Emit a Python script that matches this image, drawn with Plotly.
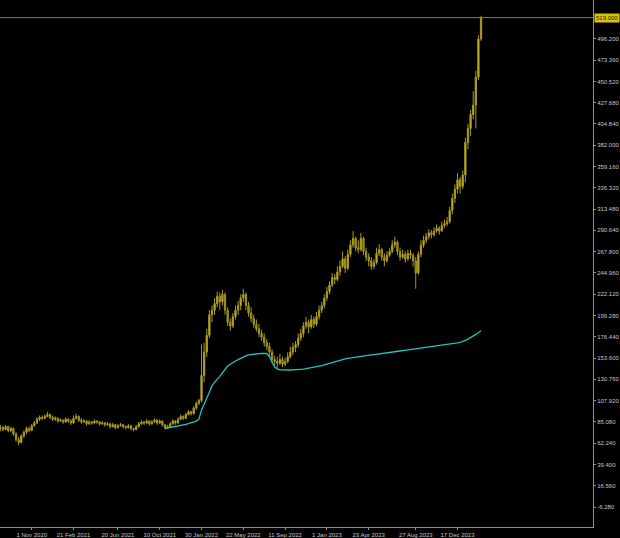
import pandas as pd
import plotly.graph_objects as go

start_date = "2020-08-09"

opens = [78,79,77,80,76,78,72,66,63,70,74,78,76,81,84,88,90,89,91,93,
         90,88,89,86,87,85,88,86,84,89,91,87,85,86,83,85,84,86,85,83,
         84,82,83,80,82,79,81,82,80,79,81,78,77,80,83,85,84,86,83,85,
         87,84,86,82,79,80,83,86,84,88,91,89,93,96,94,100,105,108,135,160,
         178,200,205,212,220,214,222,205,192,188,198,205,210,218,222,210,202,196,190,185,
         180,176,170,166,160,152,150,148,152,147,150,155,160,165,168,175,180,188,192,187,
         195,190,198,205,210,218,225,232,240,238,246,252,260,250,265,275,282,272,270,282,
         268,262,258,252,256,266,270,262,258,264,268,275,278,268,262,265,260,266,264,258,
         245,265,275,280,284,288,286,290,293,290,296,298,300,312,325,335,345,338,350,385,
         400,415,425,455,496]
highs = [82,81,82,81,80,79,74,69,72,76,80,80,83,86,90,92,92,93,96,94,
         92,91,90,89,88,90,89,88,92,94,92,89,88,87,87,86,88,87,86,86,
         85,85,84,84,83,83,84,83,81,83,82,79,82,85,87,86,88,87,87,89,
         88,88,87,83,82,85,88,87,90,93,92,95,98,97,102,107,110,168,170,185,
         205,210,218,225,224,227,224,208,196,202,210,215,222,228,224,214,208,200,195,190,
         184,180,174,170,163,156,155,158,155,154,160,166,170,172,180,185,192,198,195,200,
         198,203,210,214,222,230,236,245,244,252,258,268,263,270,280,290,284,280,288,284,
         272,266,262,260,272,276,272,266,268,272,280,284,280,272,270,268,270,270,266,262,
         268,280,285,288,292,291,294,297,295,300,302,305,316,330,340,352,348,355,390,405,
         420,440,462,500,521]
lows = [75,75,76,74,74,70,64,60,62,68,72,74,75,80,83,86,87,88,90,88,
        86,86,84,85,83,84,84,82,83,88,85,83,84,81,82,82,83,83,81,82,
        80,81,78,79,77,78,80,78,77,78,76,75,76,79,82,82,83,81,82,84,
        82,83,80,77,78,79,82,82,83,87,87,88,92,92,93,98,103,106,128,155,
        175,192,200,208,205,210,200,188,183,186,195,200,205,214,205,198,192,186,182,176,
        172,166,162,155,148,145,143,146,144,145,148,153,157,160,165,172,176,185,180,185,
        186,188,195,202,207,215,222,230,233,236,242,250,245,248,262,272,268,266,268,264,
        258,252,248,249,254,263,258,252,256,262,266,272,264,258,260,256,258,260,252,228,
        243,262,272,277,281,282,284,288,286,289,293,295,298,308,320,330,330,335,342,378,
        392,410,400,452,494]
closes = [79,77,80,76,78,72,66,63,70,74,78,76,81,84,88,90,89,91,93,90,
          88,89,86,87,85,88,86,84,89,91,87,85,86,83,85,84,86,85,83,84,
          82,83,80,82,79,81,82,80,79,81,78,77,80,83,85,84,86,83,85,87,
          84,86,82,79,80,83,86,84,88,91,89,93,96,94,100,105,108,135,160,178,
          200,205,212,220,214,222,205,192,188,198,205,210,218,222,210,202,196,190,185,180,
          176,170,166,160,152,150,148,152,147,150,155,160,165,168,175,180,188,192,187,195,
          190,198,205,210,218,225,232,240,238,246,252,260,250,265,275,282,272,270,282,268,
          262,258,252,256,266,270,262,258,264,268,275,278,268,262,265,260,266,264,258,245,
          265,275,280,284,288,286,290,293,290,296,298,300,312,325,335,345,338,350,385,400,
          415,425,455,496,519]

ma_first_bar = 63
ma_values = [78.0,78.5,79.0,79.5,80.0,80.5,81.0,81.8,82.5,83.3,84.0,84.8,86.0,88.0,98,104,110,117,124,128,
             131,134,138,142,145,147,149,150.5,152,153.5,155,156,157,157.5,158,158.2,158.4,158.5,158.6,158.5,
             155,150,144,142,141,141,140.8,140.8,140.8,141,141,141.2,141.5,141.8,142.2,142.6,143,143.5,144,144.6,
             145.4,146.2,147,148,149,150,151,151.6,152.2,152.8,153.3,153.8,154.2,154.6,155,155.4,155.8,156.2,156.6,157,
             157.4,157.7,158,158.4,158.8,159.2,159.6,160,160.4,160.8,161.2,161.6,162,162.4,162.8,163.2,163.6,164,
             164.3,164.6,164.9,165.2,165.5,165.8,166.1,166.5,167,167.5,168,168.5,169,169.5,170,170.5,171.2,172.5,174,175.5,
             177,179,181,183]

current_price = 519.0

y_tick_values = [-6.28,16.56,39.40,62.24,85.08,107.92,130.76,153.60,176.44,199.28,222.12,244.96,
                 267.80,290.64,313.48,336.32,359.16,382.00,404.84,427.68,450.52,473.36,496.20]
y_tick_labels = [f"{v:.3f}" for v in y_tick_values]

x_tick_dates = ["2020-07-12","2020-11-01","2021-02-21","2021-06-20","2021-10-10","2022-01-30",
                "2022-05-22","2022-09-11","2023-01-01","2023-04-23","2023-08-27","2023-12-17"]
x_tick_labels = ["12 Jul 2020","1 Nov 2020","21 Feb 2021","20 Jun 2021","10 Oct 2021","30 Jan 2022",
                 "22 May 2022","11 Sep 2022","1 Jan 2023","23 Apr 2023","27 Aug 2023","17 Dec 2023"]

dates = pd.date_range(start_date, periods=len(closes), freq="7D")

fig = go.Figure()
fig.add_trace(go.Candlestick(
    x=dates, open=opens, high=highs, low=lows, close=closes,
    increasing=dict(line=dict(color="#a89820", width=1), fillcolor="#d8c428"),
    decreasing=dict(line=dict(color="#a89820", width=1), fillcolor="#7a6e14"),
    whiskerwidth=0, hoverinfo="skip", showlegend=False,
))
fig.add_trace(go.Scatter(
    x=dates[ma_first_bar:ma_first_bar + len(ma_values)], y=ma_values,
    mode="lines", line=dict(color="#22c4c4", width=1.3),
    hoverinfo="skip", showlegend=False,
))

fig.add_shape(type="line", xref="paper", x0=0, x1=1, yref="y", y0=current_price, y1=current_price,
              line=dict(color="#8c7c28", width=1))
fig.add_annotation(xref="paper", x=1.0, xanchor="left", xshift=1, yref="y", y=current_price, yanchor="middle",
                   text=f"{current_price:.3f}", showarrow=False,
                   font=dict(family="Liberation Sans", size=6, color="#202000"),
                   bgcolor="#d8c400", borderpad=1)

axis_font = dict(family="Liberation Sans", size=6, color="#c4c4c4")
fig.update_layout(
    width=620, height=538,
    margin=dict(l=0, r=24, t=0, b=9),
    paper_bgcolor="#000000", plot_bgcolor="#000000",
    showlegend=False, hovermode=False,
    xaxis=dict(
        type="date", range=["2020-08-08", "2024-12-14"],
        tickvals=x_tick_dates, ticktext=x_tick_labels,
        tickfont=axis_font, ticks="outside", ticklen=2, tickcolor="#909090",
        showgrid=False, zeroline=False, showline=True, linecolor="#909090", linewidth=1,
        rangeslider=dict(visible=False), fixedrange=True,
    ),
    yaxis=dict(
        side="right", range=[-27.7, 537.9],
        tickvals=y_tick_values, ticktext=y_tick_labels,
        tickfont=axis_font, ticks="outside", ticklen=2, tickcolor="#909090",
        showgrid=False, zeroline=False, showline=True, linecolor="#909090", linewidth=1,
        fixedrange=True,
    ),
)

fig.write_html("out.html", config={"displayModeBar": False},
               post_script="document.body.style.margin='0px';document.body.style.background='#000';")
